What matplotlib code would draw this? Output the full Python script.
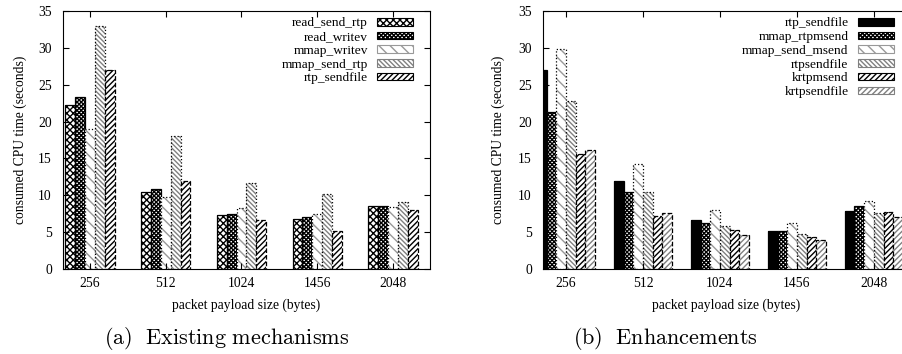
import matplotlib
matplotlib.use("Agg")
import matplotlib.pyplot as plt
import numpy as np

plt.rcParams['font.family'] = ['Liberation Serif', 'DejaVu Serif']
plt.rcParams['mathtext.fontset'] = 'cm'
plt.rcParams['hatch.linewidth'] = 1.0

sizes = ['256', '512', '1024', '1456', '2048']

# (a) existing mechanisms
names_a = ['read_send_rtp', 'read_writev', 'mmap_writev', 'mmap_send_rtp', 'rtp_sendfile']
read_send_rtp = [22.3, 10.5, 7.3, 6.8, 8.5]
read_writev = [23.4, 10.8, 7.4, 7.0, 8.6]
mmap_writev = [19.0, 9.7, 8.3, 7.5, 8.4]
mmap_send_rtp = [33.0, 18.0, 11.7, 10.2, 9.1]
rtp_sendfile_a = [27.0, 11.9, 6.7, 5.1, 8.0]

# (b) enhancements
names_b = ['rtp_sendfile', 'mmap_rtpmsend', 'mmap_send_msend', 'rtpsendfile', 'krtpmsend', 'krtpsendfile']
rtp_sendfile_b = [27.0, 11.9, 6.7, 5.2, 7.9]
mmap_rtpmsend = [21.3, 10.4, 6.2, 5.1, 8.5]
mmap_send_msend = [29.8, 14.2, 8.0, 6.2, 9.2]
rtpsendfile = [22.8, 10.4, 5.8, 4.7, 7.6]
krtpmsend = [15.6, 7.2, 5.3, 4.3, 7.7]
krtpsendfile = [16.2, 7.6, 4.6, 3.9, 7.0]

# style: (face, hatch, hatch colour, edge linestyle)
styles_a = [('white', 'xxxxx', 'black', '-'),
            ('white', 'xxxxxxxx', 'black', '-'),
            ('white', '\\\\\\', '0.6', ':'),
            ('white', '\\\\\\\\\\\\\\', '0.5', ':'),
            ('white', '//////', 'black', '--')]
styles_b = [('black', None, 'black', '-'),
            ('white', 'xxxxxxxx', 'black', '-'),
            ('white', '\\\\\\', '0.6', ':'),
            ('white', '\\\\\\\\\\\\\\', '0.5', ':'),
            ('white', '//////', 'black', '--'),
            ('white', '//////', '0.5', '--')]


def draw(ax, series, names, styles, width):
    x = np.arange(len(sizes))
    n = len(series)
    handles = []
    for i, (vals, name, st) in enumerate(zip(series, names, styles)):
        face, hatch, hcol, ls = st
        pos = x + (i - (n - 1) / 2) * width
        ax.bar(pos, vals, width, color=face, edgecolor=hcol, hatch=hatch, linewidth=0)
        ax.bar(pos, vals, width, fill=False, edgecolor='black', linewidth=0.9, linestyle=ls)
        h = plt.Rectangle((0, 0), 1, 1, facecolor=face, edgecolor=hcol, hatch=hatch, linewidth=0.8)
        handles.append(h)
    ax.set_ylim(0, 35)
    ax.set_yticks(range(0, 36, 5))
    ax.set_xticks(x)
    ax.set_xticklabels(sizes)
    ax.tick_params(direction='in', top=True, right=True, length=4, width=0.8, labelsize=9.8)
    ax.tick_params(axis='x', pad=6)
    ax.tick_params(axis='y', pad=8)
    for s in ax.spines.values():
        s.set_linewidth(0.8)
    ax.set_ylabel('consumed CPU time (seconds)', fontsize=9.8)
    ax.set_xlabel('packet payload size (bytes)', fontsize=9.8)
    ax.xaxis.set_label_coords(0.5, -0.116)
    ax.legend(handles, names, loc='upper right', bbox_to_anchor=(0.955, 0.975),
              frameon=False, markerfirst=False, fontsize=9.6, handlelength=2.7,
              handleheight=0.5, labelspacing=0.13, handletextpad=0.7,
              borderpad=0, borderaxespad=0)


fig = plt.figure(figsize=(9.02, 3.54), dpi=100)
ax1 = fig.add_axes([63 / 902, 85 / 354, 367 / 902, 258 / 354])
ax2 = fig.add_axes([543 / 902, 85 / 354, 367 / 902, 258 / 354])

draw(ax1, [read_send_rtp, read_writev, mmap_writev, mmap_send_rtp, rtp_sendfile_a], names_a, styles_a, 0.13)
ax1.set_xlim(-0.356, 4.488)
ax1.yaxis.set_label_coords(-0.099, 0.5)

draw(ax2, [rtp_sendfile_b, mmap_rtpmsend, mmap_send_msend, rtpsendfile, krtpmsend, krtpsendfile], names_b, styles_b, 0.126)
ax2.set_xlim(-0.30, 4.47)
ax2.yaxis.set_label_coords(-0.104, 0.5)
ax2.get_legend().set_bbox_to_anchor((0.956, 0.975))

fig.text(227 / 902, 1 - 338 / 354, r'$\mathrm{(a)\ \ Existing\ mechanisms}$', ha='center', va='center', fontsize=16)
fig.text(665 / 902, 1 - 338 / 354, r'$\mathrm{(b)\ \ Enhancements}$', ha='center', va='center', fontsize=16)

fig.savefig('out.png', dpi=100)
